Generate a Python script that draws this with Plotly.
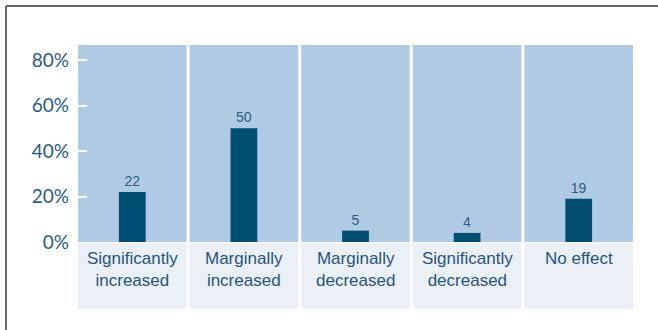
import plotly.graph_objects as go

categories = ["Significantly<br>increased", "Marginally<br>increased", "Marginally<br>decreased",
              "Significantly<br>decreased", "No effect"]
values = [22, 50, 5, 4, 19]
y_tick_vals = [0, 20, 40, 60, 80]
y_tick_text = ["0%", "20%", "40%", "60%", "80%"]

BAR = "#004e72"
PANEL = "#afcae2"
LIGHT = "#ebf0f7"
TXT = "#1f5d88"

W, H = 658, 330
ml, mr, mt, mb = 78, 25, 45, 88
pw = W - ml - mr
ph = H - mt - mb
g = 0.027
ymax = 86.6

x = list(range(len(categories)))

fig = go.Figure()
fig.add_trace(go.Bar(
    x=x, y=values, width=0.24, marker=dict(color=BAR, line=dict(width=0)),
    text=[str(v) for v in values], textposition="outside", cliponaxis=False,
    textfont=dict(family="Liberation Sans Narrow, Liberation Sans, Arial", size=14, color="#2a5e87"),
))

shapes = []
for i in x:
    shapes.append(dict(type="rect", xref="x", yref="y", x0=i - 0.5 + g / 2, x1=i + 0.5 - g / 2,
                       y0=0, y1=ymax, fillcolor=PANEL, line=dict(width=0), layer="below"))
    shapes.append(dict(type="rect", xref="x", yref="paper", x0=i - 0.5 + g / 2, x1=i + 0.5 - g / 2,
                       y0=(ph - 309 + mt) / ph, y1=(ph - 243 + mt) / ph,
                       fillcolor=LIGHT, line=dict(width=0), layer="below"))

# frame lines
fx = (6 - ml) / pw
fy = (mt + ph - 6) / ph
shapes.append(dict(type="line", xref="paper", yref="paper", x0=fx, x1=(W + 5 - ml) / pw, y0=fy, y1=fy,
                   line=dict(color="#666666", width=2)))
shapes.append(dict(type="line", xref="paper", yref="paper", x0=fx, x1=fx, y0=fy, y1=(mt + ph - H - 5) / ph,
                   line=dict(color="#666666", width=2)))

annotations = []
for i, c in enumerate(categories):
    annotations.append(dict(x=i, xref="x", y=(mt + ph - 247) / ph, yref="paper", yanchor="top",
                            text=c, showarrow=False,
                            font=dict(family="Liberation Sans, Arial", size=17, color="#245583")))

fig.update_layout(
    width=W, height=H, margin=dict(l=ml, r=mr, t=mt, b=mb),
    paper_bgcolor="white", plot_bgcolor="white",
    showlegend=False, shapes=shapes, annotations=annotations,
    xaxis=dict(range=[-0.5 + g / 2, len(categories) - 0.5 - g / 2], showticklabels=False,
               showgrid=False, zeroline=False, showline=False, ticks=""),
    yaxis=dict(range=[0, ymax], tickvals=y_tick_vals, ticktext=y_tick_text,
               ticks="inside", ticklen=9, tickwidth=2, tickcolor="white",
               ticklabelstandoff=8,
               showgrid=False, zeroline=False, showline=False,
               tickfont=dict(family="Lato, Open Sans", size=19, color=TXT)),
)

fig.write_html("out.html")
